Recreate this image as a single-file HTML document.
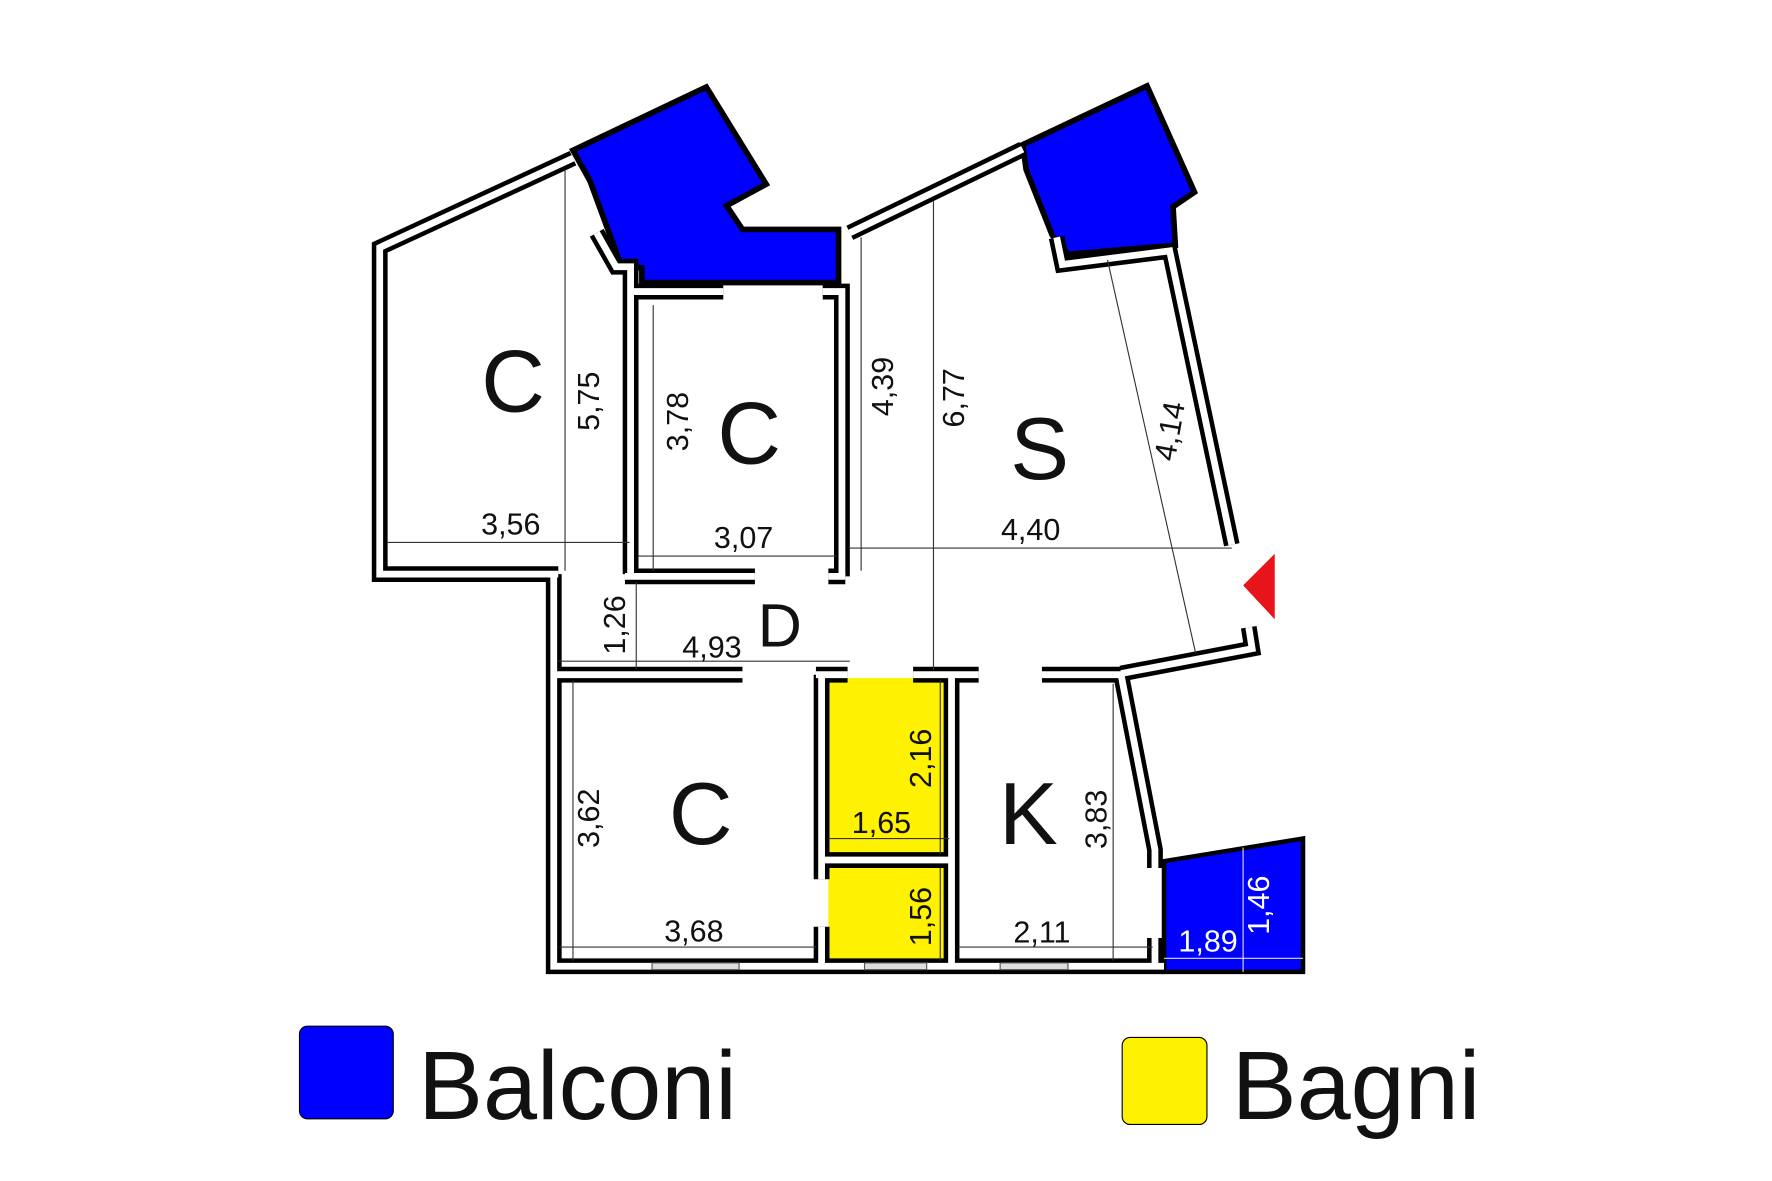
<!DOCTYPE html>
<html><head><meta charset="utf-8"><style>
html,body{margin:0;padding:0;background:#fff;}
svg{display:block;}
text{font-family:"Liberation Sans",Arial,sans-serif;fill:#111;}
</style></head><body>
<svg width="1772" height="1181" viewBox="0 0 1568 1045" preserveAspectRatio="none" xmlns="http://www.w3.org/2000/svg">
<rect width="1568" height="1045" fill="#fff"/>
<polygon points="507,133 625,77 678,163 643,182 657,203 742,203 742,250 568,250 568,237 550,236 522,160" fill="#0000ff" stroke="#000" stroke-width="5"/>
<polygon points="905,128 1015,76 1057,170 1038,183 1040,217 945,225 931,208 908,150" fill="#0000ff" stroke="#000" stroke-width="5"/>
<polygon points="1030,762 1153,742 1153,860 1030,860" fill="#0000ff" stroke="#000" stroke-width="4"/>
<rect x="733" y="600" width="107" height="157" fill="#fff200"/>
<rect x="733" y="766" width="107" height="84" fill="#fff200"/>
<g fill="none" stroke-linejoin="miter" stroke-linecap="butt">
<g stroke="#000" stroke-width="14">
<polyline points="507,140 336,219 336,508 494,508"/>
<polyline points="490,508 490,855 1030,855"/>
<polyline points="528,206 545,236 558,236 558,508"/>
<polyline points="560,258 640,258"/>
<polyline points="728,258 745,258 745,510"/>
<polyline points="553,510 668,510"/>
<polyline points="733,510 748,510"/>
<polyline points="752,206 905,132"/>
<polyline points="935,210 940,234 1035,222 1090,482"/>
<polyline points="1105,555 1108,574 992,596"/>
<polyline points="490,597 657,597"/>
<polyline points="722,597 750,597"/>
<polyline points="808,597 866,597"/>
<polyline points="922,597 992,597 1022,752 1022,768"/>
<polyline points="1022,830 1022,855"/>
<polyline points="727,597 727,778"/>
<polyline points="727,820 727,855"/>
<polyline points="842,597 842,855"/>
<polyline points="727,761 842,761"/>
</g>
<g stroke="#fff" stroke-width="6">
<polyline points="507,140 336,219 336,508 494,508"/>
<polyline points="490,508 490,855 1030,855"/>
<polyline points="528,206 545,236 558,236 558,508"/>
<polyline points="560,258 640,258"/>
<polyline points="728,258 745,258 745,510"/>
<polyline points="553,510 668,510"/>
<polyline points="733,510 748,510"/>
<polyline points="752,206 905,132"/>
<polyline points="935,210 940,234 1035,222 1090,482"/>
<polyline points="1105,555 1108,574 992,596"/>
<polyline points="490,597 657,597"/>
<polyline points="722,597 750,597"/>
<polyline points="808,597 866,597"/>
<polyline points="922,597 992,597 1022,752 1022,768"/>
<polyline points="1022,830 1022,855"/>
<polyline points="727,597 727,778"/>
<polyline points="727,820 727,855"/>
<polyline points="842,597 842,855"/>
<polyline points="727,761 842,761"/>
</g>
</g>
<g fill="#ddd" stroke="#555" stroke-width="1">
<rect x="577" y="852" width="77" height="6"/>
<rect x="765" y="852" width="55" height="6"/>
<rect x="885" y="852" width="60" height="6"/>
</g>
<g stroke="#333" stroke-width="1">
<line x1="500" y1="150" x2="500" y2="505"/>
<line x1="343" y1="480" x2="557" y2="480"/>
<line x1="578" y1="270" x2="578" y2="505"/>
<line x1="565" y1="492" x2="740" y2="492"/>
<line x1="762" y1="210" x2="762" y2="505"/>
<line x1="826" y1="178" x2="826" y2="593"/>
<line x1="752" y1="485" x2="1090" y2="485"/>
<line x1="980" y1="230" x2="1058" y2="578"/>
<line x1="563" y1="515" x2="563" y2="592"/>
<line x1="494" y1="585" x2="752" y2="585"/>
<line x1="507" y1="602" x2="507" y2="850"/>
<line x1="495" y1="838" x2="722" y2="838"/>
<line x1="832" y1="602" x2="832" y2="756"/>
<line x1="733" y1="742" x2="840" y2="742"/>
<line x1="832" y1="768" x2="832" y2="850"/>
<line x1="985" y1="605" x2="985" y2="850"/>
<line x1="848" y1="838" x2="1020" y2="838"/>
<line x1="1100" y1="750" x2="1100" y2="860" stroke="#ddd"/>
<line x1="1030" y1="848" x2="1153" y2="848" stroke="#ddd"/>
</g>
<polygon points="1128,490 1100,518 1128,548" fill="#e8141c"/>
<g font-size="78" text-anchor="middle">
<text x="454" y="364">C</text>
<text x="663" y="410">C</text>
<text x="920" y="424">S</text>
<text x="620" y="747">C</text>
<text x="910" y="747">K</text>
<text x="690" y="572" font-size="54">D</text>
</g>
<g font-size="27" text-anchor="middle">
<text x="452" y="473">3,56</text>
<text x="658" y="485">3,07</text>
<text x="912" y="478">4,40</text>
<text x="630" y="582">4,93</text>
<text x="780" y="737">1,65</text>
<text x="614" y="833">3,68</text>
<text x="922" y="834">2,11</text>
<text x="1069" y="842" style="fill:#fff">1,89</text>
<text transform="translate(530,355) rotate(-90)">5,75</text>
<text transform="translate(609,373) rotate(-90)">3,78</text>
<text transform="translate(790,342) rotate(-90)">4,39</text>
<text transform="translate(853,352) rotate(-90)">6,77</text>
<text transform="translate(1044,383) rotate(-80)">4,14</text>
<text transform="translate(553,553) rotate(-90)">1,26</text>
<text transform="translate(530,724) rotate(-90)">3,62</text>
<text transform="translate(824,671) rotate(-90)">2,16</text>
<text transform="translate(824,811) rotate(-90)">1,56</text>
<text transform="translate(979,725) rotate(-90)">3,83</text>
<text transform="translate(1123,801) rotate(-90)" style="fill:#fff">1,46</text>
</g>
<rect x="265" y="908" width="83" height="82" rx="7" fill="#0000ff" stroke="#000" stroke-width="1"/>
<text x="370" y="990" font-size="86">Balconi</text>
<rect x="993" y="918" width="75" height="77" rx="7" fill="#fff200" stroke="#000" stroke-width="1"/>
<text x="1090" y="990" font-size="86">Bagni</text>
</svg>
</body></html>
